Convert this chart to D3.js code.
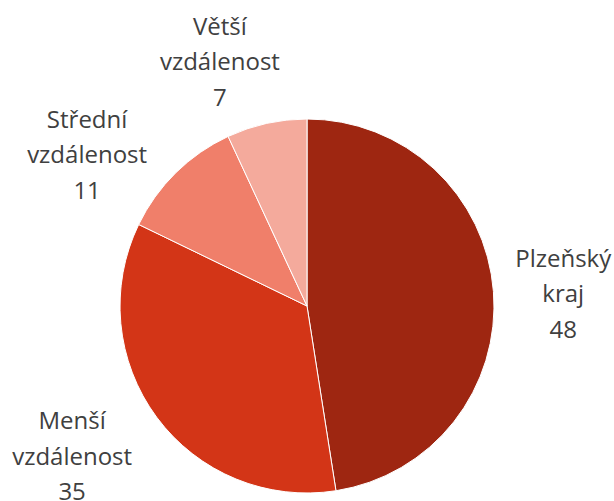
<!DOCTYPE html>
<meta charset="utf-8">
<style>
body { margin: 0; background: #fff; }
text {
  font-family: "Open Sans", "Noto Sans", sans-serif;
  font-size: 24px;
  fill: #404040;
}
path {
  stroke: white;
  stroke-width: 1px;
}
</style>
<body>
<script src="https://d3js.org/d3.v7.min.js"></script>
<script>
var width = 614,
    height = 501;

// data
var categories = ["Plzeňský kraj", "Menší vzdálenost", "Střední vzdálenost", "Větší vzdálenost"];
var values = [48, 35, 11, 7];
var colors = ["#9e2611", "#d33517", "#f07f6a", "#f4aa9c"];

// label layout tweaks (best-fit style placement)
var labelLines = [["Plzeňský", "kraj"], ["Menší", "vzdálenost"], ["Střední", "vzdálenost"], ["Větší", "vzdálenost"]];
var labelNudge = [[2, 8], [-30, -1], [-41, 31], [-32, 5]];

var cx = width / 2,
    cy = 306,
    radius = 187;

var svg = d3.select("body").append("svg")
    .attr("width", width)
    .attr("height", height);

var g = svg.append("g")
    .attr("transform", "translate(" + cx + "," + cy + ")");

var pie = d3.pie().sort(null).value(function(d) { return d; });
var arcs = pie(values);

var arc = d3.arc().innerRadius(0).outerRadius(radius);
var labelArc = d3.arc().innerRadius(255).outerRadius(255);

g.selectAll("path")
   .data(arcs)
   .enter().append("path")
   .attr("d", arc)
   .attr("fill", function(d, i) { return colors[i]; });

var labels = g.selectAll("text")
   .data(arcs)
   .enter().append("text")
   .attr("text-anchor", "middle")
   .attr("transform", function(d, i) {
      var c = labelArc.centroid(d);
      return "translate(" + (c[0] + labelNudge[i][0]) + "," + (c[1] + labelNudge[i][1]) + ")";
   });

labels.each(function(d, i) {
    var t = d3.select(this);
    var lines = labelLines[i].concat([String(values[i])]);
    lines.forEach(function(s, k) {
        t.append("tspan")
          .attr("x", 0)
          .attr("y", (k - 1) * 35.5 + 8)
          .text(s);
    });
});
</script>
</body>
